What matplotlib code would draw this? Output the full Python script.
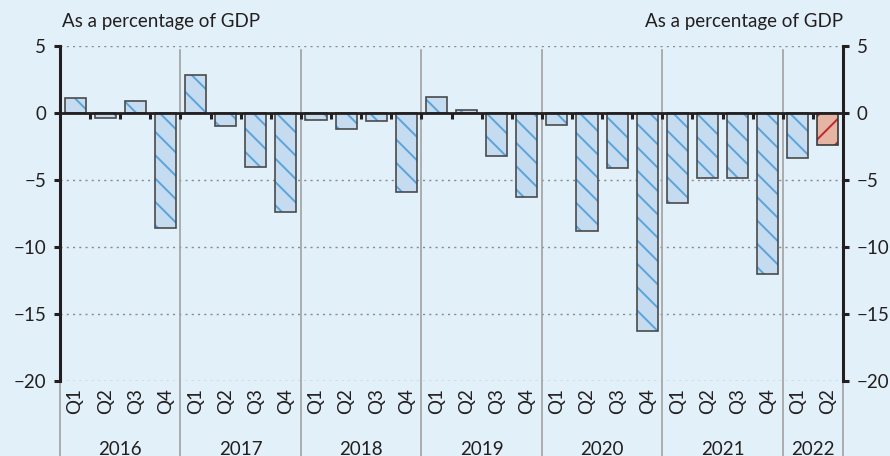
import numpy as np
import matplotlib
matplotlib.use('Agg')
import matplotlib.pyplot as plt
from matplotlib import transforms

# Quarterly values, as a percentage of GDP
years = ['2016', '2017', '2018', '2019', '2020', '2021', '2022']
quarters_per_year = [4, 4, 4, 4, 4, 4, 2]
quarter_labels = ['Q1', 'Q2', 'Q3', 'Q4'] * 6 + ['Q1', 'Q2']
values = [1.1, -0.35, 0.9, -8.6,
          2.8, -1.0, -4.0, -7.4,
          -0.5, -1.2, -0.6, -5.9,
          1.2, 0.2, -3.2, -6.3,
          -0.9, -8.8, -4.1, -16.3,
          -6.7, -4.85, -4.85, -12.0,
          -3.35, -2.4]
highlight = [False] * 25 + [True]

# dpi chosen so the hatch spacing matches; sizes scaled back to 100-dpi look
DPI = 140
S = 100 / DPI

bg = '#e2f0f9'
text_col = '#231f20'
fs = 13.5 * S
plt.rcParams['font.family'] = ['Lato', 'DejaVu Sans']
plt.rcParams['hatch.linewidth'] = 1.4 * S

fig = plt.figure(figsize=(890 / DPI, 456 / DPI), dpi=DPI, facecolor=bg)
ax = fig.add_axes([60 / 890, 1 - 381 / 456, 783 / 890, 335 / 456])
ax.set_facecolor(bg)

x = np.arange(len(values))
for xi, v, hl in zip(x, values, highlight):
    if hl:
        ax.bar(xi, v, width=0.7, facecolor='#e6b4a2', edgecolor='#c0272d',
               hatch='//', linewidth=0, zorder=3)
        ax.bar(xi, v, width=0.7, facecolor='none', edgecolor='#3a3a3a',
               linewidth=1.2 * S, zorder=4)
    else:
        ax.bar(xi, v, width=0.7, facecolor='#c5dcf0', edgecolor='#5ba3db',
               hatch='\\\\', linewidth=0, zorder=3)
        ax.bar(xi, v, width=0.7, facecolor='none', edgecolor='#4a4a4a',
               linewidth=1.2 * S, zorder=4)

ax.set_xlim(-0.5, len(values) - 0.5)
ax.set_ylim(-20, 5)

# dotted gridlines and zero line
for yv in [5, -5, -10, -15, -20]:
    ax.axhline(yv, color='#8a8a8a', lw=1 * S, ls=(0, (1.5, 3)), zorder=1)
ax.axhline(0, color=text_col, lw=2 * S, zorder=5)
bounds = np.arange(len(values) + 1) - 0.5
ax.plot(bounds[1:-1], np.zeros(len(bounds) - 2), ls='none', marker=3,
        ms=4 * S, mew=2.2 * S, color=text_col, zorder=5)

# year separators and year labels
trans = transforms.blended_transform_factory(ax.transData, ax.transAxes)
edges = np.concatenate([[0], np.cumsum(quarters_per_year)]) - 0.5
for e in edges:
    ax.plot([e, e], [-0.225, 0.988], transform=trans, color='#a0a0a0',
            lw=1.2 * S, clip_on=False, zorder=2)
for i, yr in enumerate(years):
    ax.text((edges[i] + edges[i + 1]) / 2, -0.203, yr, transform=trans,
            ha='center', va='center', fontsize=fs, color=text_col)

# axes styling
for s in ['top', 'bottom']:
    ax.spines[s].set_visible(False)
for s in ['left', 'right']:
    ax.spines[s].set_linewidth(2.2 * S)
    ax.spines[s].set_color(text_col)
ax.set_yticks([5, 0, -5, -10, -15, -20])
ax.set_yticklabels(['5', '0', '\u22125', '\u221210', '\u221215', '\u221220'])
ax.tick_params(axis='y', which='both', left=True, right=True,
               labelleft=True, labelright=True, direction='out',
               length=4 * S, width=2.2 * S, color=text_col, labelsize=fs,
               labelcolor=text_col, pad=6 * S)
ax.set_xticks(x)
ax.set_xticklabels(quarter_labels, rotation=90)
ax.tick_params(axis='x', length=0, pad=5 * S, labelsize=fs, labelcolor=text_col)

fig.text(62 / 890, 1 - 22 / 456, 'As a percentage of GDP', ha='left',
         va='center', fontsize=fs, color=text_col)
fig.text(843 / 890, 1 - 22 / 456, 'As a percentage of GDP', ha='right',
         va='center', fontsize=fs, color=text_col)

fig.savefig('out.png', dpi=DPI, facecolor=bg)
